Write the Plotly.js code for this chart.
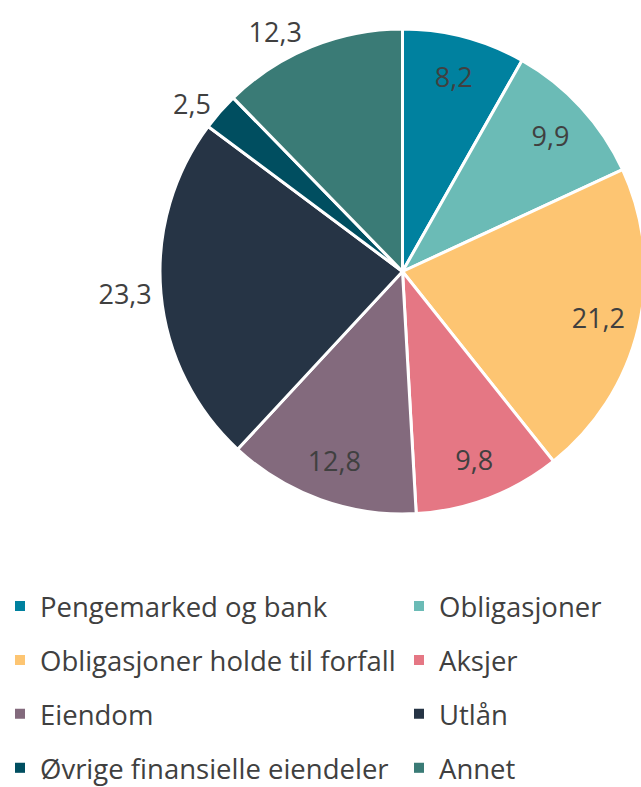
<!DOCTYPE html>
<html><head><meta charset="utf-8">
<script src="https://cdn.plot.ly/plotly-3.0.1.min.js"></script>
<style>html,body{margin:0;padding:0;background:#fff;overflow:hidden;width:641px;height:787px}#chart{width:650px;height:787px}</style>
</head><body><div id="chart"></div>
<script>
const categories = ["Pengemarked og bank","Obligasjoner","Obligasjoner holde til forfall","Aksjer","Eiendom","Utlån","Øvrige finansielle eiendeler","Annet"];
const values = [8.2, 9.9, 21.2, 9.8, 12.8, 23.3, 2.5, 12.3];
const colors = ["#00819F","#6BBBB6","#FDC572","#E57784","#836A7D","#263445","#004E60","#3A7B76"];
const outerLabel = ["none","none","none","none","none","outside","outside","outside"];
const innerLabel = ["inside","inside","inside","inside","inside","none","none","none"];
const leftCol = [0,2,4,6], rightCol = [1,3,5,7];

const FONT = "Open Sans, sans-serif";
const TXT = "#404040";
const W = 650, H = 787;
const dom = {x: [160/W, 645/W], y: [1 - 514/H, 1 - 29/H]};
const traces = [{
  type: "pie", values: values, labels: categories, sort: false, direction: "clockwise", rotation: 0,
  marker: {colors: colors, line: {color: "#ffffff", width: 3}},
  texttemplate: "%{value:.1f}", textposition: outerLabel,
  textfont: {family: FONT, size: 27, color: TXT},
  showlegend: false, hoverinfo: "none", domain: dom
}, {
  type: "pie", values: values, labels: categories, sort: false, direction: "clockwise", rotation: 0, hole: 0.66,
  marker: {colors: colors.map(() => "rgba(0,0,0,0)"), line: {width: 0}},
  texttemplate: "%{value:.1f}", textposition: innerLabel, insidetextorientation: "horizontal",
  textfont: {family: FONT, size: 27, color: TXT},
  showlegend: false, hoverinfo: "none", domain: dom
}];
function addLegend(idx, legName){
  idx.forEach(i => traces.push({
    type: "scatter", mode: "markers", x: [null], y: [null], name: categories[i],
    marker: {symbol: "square", size: 10, color: colors[i]},
    legend: legName, legendgroup: "g" + i, showlegend: true, hoverinfo: "none"
  }));
}
addLegend(leftCol, "legend");
addLegend(rightCol, "legend2");
const legBase = {orientation: "v", yanchor: "top", xanchor: "left", tracegroupgap: 15.2,
  font: {family: FONT, size: 27.5, color: TXT}, bgcolor: "rgba(0,0,0,0)", itemclick: false, itemdoubleclick: false};
const layout = {
  width: W, height: H, margin: {l: 0, r: 0, t: 0, b: 0, autoexpand: false},
  paper_bgcolor: "#ffffff", plot_bgcolor: "#ffffff", separators: ", ",
  xaxis: {visible: false}, yaxis: {visible: false},
  legend: Object.assign({}, legBase, {x: 0, y: 0.261}),
  legend2: Object.assign({}, legBase, {x: 399/W, y: 0.261}),
  showlegend: true
};
Plotly.newPlot("chart", traces, layout, {staticPlot: true, displayModeBar: false});
</script></body></html>
